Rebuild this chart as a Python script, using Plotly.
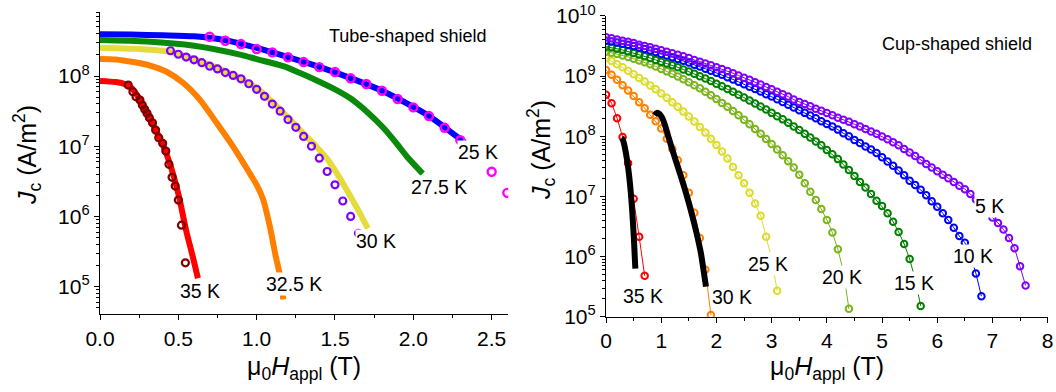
import plotly.graph_objects as go

FONT = "Arial, 'Liberation Sans', Helvetica, sans-serif"

# ---------------- Tube-shaped shield ----------------
# 25 K: field sweep (line) and discrete measurements (open circles)
tube_25K_line_H = [0.0, 0.2, 0.4, 0.6, 0.8, 1.0, 1.2, 1.4, 1.6, 1.8, 2.0, 2.1, 2.2, 2.3, 2.33]
tube_25K_line_Jc = [3.93e8, 3.89e8, 3.80e8, 3.67e8, 3.24e8, 2.51e8, 1.86e8, 1.35e8, 9.33e7,
                    6.17e7, 3.63e7, 2.69e7, 1.86e7, 1.26e7, 1.12e7]
tube_25K_pts_H = [0.7, 0.8, 0.9, 1.0, 1.1, 1.2, 1.3, 1.4, 1.5, 1.6, 1.7, 1.8, 1.9, 2.0,
                  2.1, 2.2, 2.3, 2.4, 2.5, 2.6]
tube_25K_pts_Jc = [3.62e8, 3.18e8, 2.85e8, 2.42e8, 2.17e8, 1.85e8, 1.58e8, 1.34e8, 1.14e8,
                   9.27e7, 7.69e7, 6.17e7, 4.70e7, 3.58e7, 2.69e7, 1.83e7, 1.22e7, 7.59e6,
                   4.33e6, 2.17e6]

# 27.5 K sweep
tube_27K5_H = [0.0, 0.3, 0.6, 0.9, 1.0, 1.17, 1.27, 1.38, 1.5, 1.6, 1.7, 1.81, 1.9, 1.96, 2.06]
tube_27K5_Jc = [3.25e8, 3.09e8, 2.69e8, 2.00e8, 1.74e8, 1.38e8, 1.12e8, 8.71e7, 6.46e7,
                4.79e7, 3.16e7, 1.82e7, 1.05e7, 7.08e6, 4.07e6]

# 30 K sweep and discrete measurements
tube_30K_line_H = [0.0, 0.2, 0.425, 0.6, 0.8, 1.0, 1.1, 1.2, 1.3, 1.383, 1.45, 1.53, 1.6,
                   1.66, 1.71]
tube_30K_line_Jc = [2.53e8, 2.45e8, 2.24e8, 1.74e8, 1.17e8, 6.76e7, 4.27e7, 2.57e7, 1.51e7,
                    9.77e6, 6.61e6, 3.55e6, 1.91e6, 1.10e6, 6.76e5]
tube_30K_pts_H = [0.45, 0.50, 0.55, 0.60, 0.65, 0.70, 0.75, 0.80, 0.85, 0.90, 0.95, 1.00,
                  1.05, 1.10, 1.15, 1.20, 1.25, 1.30, 1.35, 1.40, 1.45, 1.50, 1.55, 1.60, 1.65]
tube_30K_pts_Jc = [2.29e8, 2.04e8, 1.86e8, 1.70e8, 1.55e8, 1.38e8, 1.26e8, 1.12e8, 1.02e8,
                   9.12e7, 7.76e7, 6.46e7, 5.13e7, 3.98e7, 3.16e7, 2.40e7, 1.86e7, 1.38e7,
                   1.00e7, 6.76e6, 4.37e6, 2.82e6, 1.66e6, 1.00e6, 5.75e5]

# 32.5 K sweep
tube_32K5_H = [0.0, 0.1, 0.213, 0.32, 0.425, 0.532, 0.638, 0.745, 0.851, 0.957, 1.0, 1.04,
               1.085, 1.12, 1.15, 1.17]
tube_32K5_Jc = [1.75e8, 1.72e8, 1.58e8, 1.41e8, 1.15e8, 7.94e7, 4.57e7, 2.14e7, 9.77e6,
                4.07e6, 2.82e6, 1.78e6, 7.08e5, 2.82e5, 1.41e5, 6.6e4]

# 35 K sweep and discrete measurements
tube_35K_line_H = [0.0, 0.1, 0.15, 0.2, 0.25, 0.3, 0.35, 0.4, 0.45, 0.5, 0.55, 0.59, 0.625]
tube_35K_line_Jc = [8.5e7, 8.2e7, 7.8e7, 6.8e7, 4.8e7, 3.0e7, 1.8e7, 1.07e7, 5.3e6, 2.1e6,
                    6.3e5, 2.8e5, 1.32e5]
tube_35K_pts_H = [0.18, 0.21, 0.23, 0.255, 0.27, 0.285, 0.30, 0.315, 0.335, 0.355, 0.375,
                  0.40, 0.42, 0.44, 0.46, 0.48, 0.50, 0.52, 0.545]
tube_35K_pts_Jc = [7.43e7, 5.97e7, 5.07e7, 4.54e7, 3.86e7, 3.35e7, 2.94e7, 2.55e7, 2.16e7,
                   1.70e7, 1.32e7, 1.10e7, 8.53e6, 5.52e6, 3.61e6, 2.71e6, 1.71e6, 7.53e5,
                   2.19e5]

# ---------------- Cup-shaped shield ----------------
cup_field = [0.0, 0.1, 0.2, 0.3, 0.4, 0.5, 0.6, 0.7, 0.8, 0.9,
             1.0, 1.1, 1.2, 1.3, 1.4, 1.5, 1.6, 1.7, 1.8, 1.9,
             2.0, 2.1, 2.2, 2.3, 2.4, 2.5, 2.6, 2.7, 2.8, 2.9,
             3.0, 3.1, 3.2, 3.3, 3.4, 3.5, 3.6, 3.7, 3.8, 3.9,
             4.0, 4.1, 4.2, 4.3, 4.4, 4.5, 4.6, 4.7, 4.8, 4.9,
             5.0, 5.1, 5.2, 5.3, 5.4, 5.5, 5.6, 5.7, 5.8, 5.9,
             6.0, 6.1, 6.2, 6.3, 6.4, 6.5, 6.6, 6.7, 6.8, 6.9,
             7.0, 7.1, 7.2, 7.3, 7.4, 7.5, 7.6]

cup_5K = [4.43e9, 4.27e9, 4.07e9, 3.89e9, 3.72e9, 3.55e9, 3.31e9, 3.16e9, 3.02e9, 2.85e9,
          2.69e9, 2.54e9, 2.40e9, 2.26e9, 2.14e9, 2.00e9, 1.86e9, 1.74e9, 1.62e9, 1.51e9,
          1.41e9, 1.32e9, 1.22e9, 1.12e9, 1.02e9, 9.44e8, 8.71e8, 7.94e8, 7.24e8, 6.61e8,
          6.03e8, 5.50e8, 5.01e8, 4.57e8, 4.07e8, 3.72e8, 3.43e8, 3.16e8, 2.88e8, 2.66e8,
          2.43e8, 2.24e8, 2.04e8, 1.88e8, 1.74e8, 1.58e8, 1.45e8, 1.32e8, 1.20e8, 1.10e8,
          9.89e7, 8.91e7, 7.94e7, 7.08e7, 6.17e7, 5.37e7, 4.68e7, 3.98e7, 3.47e7, 3.02e7,
          2.63e7, 2.29e7, 2.00e7, 1.74e7, 1.51e7, 1.32e7, 1.10e7, 8.91e6, 7.24e6, 5.75e6,
          4.47e6, 3.63e6, 2.82e6, 2.04e6, 1.38e6, 6.92e5, 3.31e5]
cup_10K = [3.89e9, 3.76e9, 3.63e9, 3.47e9, 3.31e9, 3.16e9, 2.99e9, 2.82e9, 2.66e9, 2.51e9,
           2.34e9, 2.21e9, 2.07e9, 1.93e9, 1.80e9, 1.68e9, 1.55e9, 1.45e9, 1.33e9, 1.23e9,
           1.14e9, 1.05e9, 9.55e8, 8.81e8, 8.04e8, 7.33e8, 6.68e8, 6.10e8, 5.56e8, 5.01e8,
           4.57e8, 4.12e8, 3.72e8, 3.35e8, 3.02e8, 2.72e8, 2.45e8, 2.21e8, 2.00e8, 1.78e8,
           1.60e8, 1.45e8, 1.29e8, 1.12e8, 1.00e8, 8.71e7, 7.76e7, 6.76e7, 6.03e7, 5.25e7,
           4.47e7, 3.80e7, 3.24e7, 2.69e7, 2.24e7, 1.82e7, 1.55e7, 1.29e7, 1.05e7, 8.32e6,
           6.76e6, 5.25e6, 4.07e6, 3.02e6, 2.19e6, 1.70e6, 1.05e6, 5.25e5, 2.19e5]
cup_15K = [3.09e9, 2.99e9, 2.85e9, 2.72e9, 2.57e9, 2.43e9, 2.29e9, 2.14e9, 2.00e9, 1.86e9,
           1.74e9, 1.62e9, 1.51e9, 1.40e9, 1.29e9, 1.19e9, 1.10e9, 1.00e9, 9.12e8, 8.32e8,
           7.50e8, 6.76e8, 6.10e8, 5.50e8, 4.90e8, 4.42e8, 3.94e8, 3.51e8, 3.13e8, 2.79e8,
           2.45e8, 2.16e8, 1.91e8, 1.68e8, 1.46e8, 1.27e8, 1.10e8, 9.55e7, 8.22e7, 7.08e7,
           5.89e7, 5.01e7, 4.17e7, 3.39e7, 2.75e7, 2.19e7, 1.74e7, 1.41e7, 1.10e7, 8.51e6,
           6.92e6, 5.25e6, 3.80e6, 2.57e6, 1.62e6, 9.12e5, 4.17e5, 1.51e5]
cup_20K = [2.57e9, 2.45e9, 2.34e9, 2.21e9, 2.09e9, 1.95e9, 1.82e9, 1.70e9, 1.57e9, 1.45e9,
           1.32e9, 1.20e9, 1.10e9, 9.89e8, 8.91e8, 7.94e8, 7.08e8, 6.31e8, 5.50e8, 4.79e8,
           4.17e8, 3.59e8, 3.09e8, 2.63e8, 2.24e8, 1.88e8, 1.58e8, 1.32e8, 1.10e8, 9.02e7,
           7.41e7, 6.03e7, 4.84e7, 3.85e7, 3.02e7, 2.29e7, 1.66e7, 1.20e7, 8.71e6, 6.17e6,
           4.07e6, 2.51e6, 1.32e6, 5.62e5, 1.35e5]
cup_25K = [2.00e9, 1.78e9, 1.58e9, 1.40e9, 1.23e9, 1.07e9, 9.33e8, 8.13e8, 7.00e8, 6.03e8,
           5.13e8, 4.37e8, 3.67e8, 3.09e8, 2.57e8, 2.14e8, 1.76e8, 1.43e8, 1.15e8, 9.12e7,
           7.16e7, 5.56e7, 4.27e7, 3.09e7, 2.24e7, 1.66e7, 1.15e7, 7.59e6, 4.79e6, 2.14e6,
           8.91e5, 2.69e5]
cup_30K = [1.26e9, 1.05e9, 8.71e8, 7.08e8, 5.75e8, 4.68e8, 3.67e8, 2.92e8, 2.29e8, 1.78e8,
           1.35e8, 9.12e7, 6.17e7, 3.98e7, 2.24e7, 1.15e7, 5.37e6, 2.04e6, 6.03e5, 1.07e5]
cup_35K = [4.90e8, 3.55e8, 2.00e8, 9.77e7, 3.55e7, 9.12e6, 2.14e6, 4.79e5]

# continuous sweeps at 35 K and 30 K
cup_35K_sweep_H = [0.28, 0.30, 0.33, 0.36, 0.39, 0.42, 0.45, 0.475, 0.495, 0.51, 0.52, 0.531]
cup_35K_sweep_Jc = [9.33e7, 8.91e7, 7.24e7, 5.25e7, 3.55e7, 2.14e7, 1.12e7, 5.50e6, 2.82e6,
                    1.58e6, 1.00e6, 6.31e5]
cup_30K_sweep_H = [0.88, 0.92, 0.97, 1.02, 1.08, 1.13, 1.22, 1.34, 1.45, 1.55, 1.64, 1.72,
                   1.775, 1.81]
cup_30K_sweep_Jc = [2.24e8, 2.45e8, 2.34e8, 2.00e8, 1.41e8, 9.77e7, 5.25e7, 2.40e7, 1.12e7,
                    5.25e6, 2.45e6, 1.12e6, 5.25e5, 3.16e5]

fig = go.Figure()


def line(x, y, color, width, xa, ya):
    fig.add_trace(go.Scatter(x=x, y=y, mode="lines", xaxis=xa, yaxis=ya,
                             line=dict(color=color, width=width, shape="spline",
                                       smoothing=0.7),
                             showlegend=False, hoverinfo="skip"))


def circles(x, y, color, size, lw, xa, ya, link=False):
    fig.add_trace(go.Scatter(x=x, y=y, mode="lines+markers" if link else "markers",
                             xaxis=xa, yaxis=ya,
                             line=dict(color=color, width=1),
                             marker=dict(symbol="circle-open", size=size, color=color,
                                         line=dict(color=color, width=lw)),
                             showlegend=False, hoverinfo="skip"))


# tube panel
line(tube_25K_line_H, tube_25K_line_Jc, "#0000ff", 6, "x", "y")
line(tube_27K5_H, tube_27K5_Jc, "#0a8a0a", 6, "x", "y")
line(tube_30K_line_H, tube_30K_line_Jc, "#e3dc3c", 6, "x", "y")
line(tube_32K5_H, tube_32K5_Jc, "#ff8000", 6, "x", "y")
line(tube_35K_line_H, tube_35K_line_Jc, "#ff0000", 6, "x", "y")
circles(tube_25K_pts_H, tube_25K_pts_Jc, "#ff00ff", 8, 2.4, "x", "y")
circles(tube_30K_pts_H, tube_30K_pts_Jc, "#8000ff", 7, 2.2, "x", "y")
circles(tube_35K_pts_H, tube_35K_pts_Jc, "#800000", 7, 2.2, "x", "y")

# cup panel
cup_series = [
    (cup_35K, "#ff0000"),
    (cup_30K, "#ff8000"),
    (cup_25K, "#dcdc2e"),
    (cup_20K, "#7cb41c"),
    (cup_15K, "#008000"),
    (cup_10K, "#0000ff"),
    (cup_5K, "#8000ff"),
]
for jc, col in cup_series:
    circles(cup_field[:len(jc)], jc, col, 6.5, 2, "x2", "y2", link=True)
line(cup_35K_sweep_H, cup_35K_sweep_Jc, "#000000", 6, "x2", "y2")
line(cup_30K_sweep_H, cup_30K_sweep_Jc, "#000000", 6, "x2", "y2")

# ---------------- axes ----------------
tick_font = dict(family=FONT, size=21, color="black")
AX = dict(showline=True, linecolor="black", linewidth=1.3, showgrid=False, zeroline=False,
          tickcolor="black", tickwidth=1.3, tickfont=tick_font, automargin=False)


def log_minor(lo, hi):
    return [m * 10 ** e for e in range(lo, hi) for m in range(2, 10)]


left_x_major = [0.0, 0.5, 1.0, 1.5, 2.0, 2.5]
left_x_text = ["0.0", "0.5", "1.0", "1.5", "2.0", "2.5"]
left_x_minor = [0.25, 0.75, 1.25, 1.75, 2.25]
left_y_major = [1e5, 1e6, 1e7, 1e8]
left_y_text = ["10<sup>5</sup>", "10<sup>6</sup>", "10<sup>7</sup>", "10<sup>8</sup>"]
right_x_major = [0, 1, 2, 3, 4, 5, 6, 7, 8]
right_x_minor = [0.5, 1.5, 2.5, 3.5, 4.5, 5.5, 6.5, 7.5]
right_y_major = [1e5, 1e6, 1e7, 1e8, 1e9, 1e10]
right_y_text = ["10<sup>5</sup>", "10<sup>6</sup>", "10<sup>7</sup>", "10<sup>8</sup>",
                "10<sup>9</sup>", "10<sup>10</sup>"]

LX = [0.0, 2.606]
LY = [4.607, 8.907]
RX = [0.0, 8.0]
RY = [5.0, 10.0]


def minor(vals, side):
    return dict(tickmode="array", tickvals=vals, ticks=side, ticklen=3,
                tickcolor="black", tickwidth=1.3)


fig.update_layout(
    xaxis=dict(AX, domain=[0.0947, 0.4813], range=LX, anchor="y", ticks="outside", ticklen=5,
               tickmode="array", tickvals=left_x_major, ticktext=left_x_text,
               minor=minor(left_x_minor, "outside")),
    yaxis=dict(AX, domain=[0.1982, 0.9686], range=LY, type="log", anchor="x",
               ticks="outside", ticklen=5, tickmode="array", tickvals=left_y_major,
               ticktext=left_y_text, minor=minor(log_minor(4, 9), "outside")),
    xaxis3=dict(AX, overlaying="x", side="top", anchor="y", range=LX, ticks="inside",
                ticklen=5, tickmode="array", tickvals=left_x_major, showticklabels=False,
                minor=minor(left_x_minor, "inside")),
    yaxis3=dict(AX, overlaying="y", side="right", anchor="x", range=LY, type="log",
                ticks="inside", ticklen=5, tickmode="array", tickvals=left_y_major,
                showticklabels=False, minor=minor(log_minor(4, 9), "inside")),
    xaxis2=dict(AX, domain=[0.5739, 0.9921], range=RX, anchor="y2", ticks="outside",
                ticklen=5, tickmode="array", tickvals=right_x_major,
                minor=minor(right_x_minor, "outside")),
    yaxis2=dict(AX, domain=[0.1921, 0.9592], range=RY, type="log", anchor="x2",
                ticks="outside", ticklen=5, tickmode="array", tickvals=right_y_major,
                ticktext=right_y_text, minor=minor(log_minor(5, 10), "outside")),
    xaxis4=dict(AX, overlaying="x2", side="top", anchor="y2", range=RX, ticks="inside",
                ticklen=5, tickmode="array", tickvals=right_x_major, showticklabels=False,
                minor=minor(right_x_minor, "inside")),
    yaxis4=dict(AX, overlaying="y2", side="right", anchor="x2", range=RY, type="log",
                ticks="inside", ticklen=5, tickmode="array", tickvals=right_y_major,
                showticklabels=False, minor=minor(log_minor(5, 10), "inside")),
)

# ---------------- text ----------------
label_font = dict(family=FONT, size=19.5, color="black")
annotations = []


def temp_label(text, x, logy, xref, yref):
    annotations.append(dict(text=text, x=x, y=logy, xref=xref, yref=yref, showarrow=False,
                            font=label_font, bgcolor="white", borderpad=0,
                            xanchor="center", yanchor="middle"))


temp_label("25 K", 2.41, 6.92, "x", "y")
temp_label("27.5 K", 2.163, 6.42, "x", "y")
temp_label("30 K", 1.761, 5.65, "x", "y")
temp_label("32.5 K", 1.238, 5.04, "x", "y")
temp_label("35 K", 0.638, 4.94, "x", "y")

temp_label("35 K", 0.67, 5.344, "x2", "y2")
temp_label("30 K", 2.283, 5.328, "x2", "y2")
temp_label("25 K", 2.935, 5.876, "x2", "y2")
temp_label("20 K", 4.275, 5.66, "x2", "y2")
temp_label("15 K", 5.58, 5.56, "x2", "y2")
temp_label("10 K", 6.65, 6.009, "x2", "y2")
temp_label("5 K", 6.94, 6.84, "x2", "y2")

panel_font = dict(family=FONT, size=18, color="black")
annotations.append(dict(text="Tube-shaped shield", x=407 / 1056, y=1 - 36 / 392,
                        xref="paper", yref="paper", showarrow=False, font=panel_font,
                        xanchor="center", yanchor="middle"))
annotations.append(dict(text="Cup-shaped shield", x=957 / 1056, y=1 - 44 / 392,
                        xref="paper", yref="paper", showarrow=False, font=panel_font,
                        xanchor="center", yanchor="middle"))

title_font = dict(family=FONT, size=25, color="black")
x_title = "\u03bc<sub>0</sub><i>H</i><sub>appl</sub> (T)"
y_title = "<i>J</i><sub>c</sub> (A/m<sup>2</sup>)"
annotations.append(dict(text=x_title, x=304 / 1056, y=1 - 368 / 392, xref="paper",
                        yref="paper", showarrow=False, font=title_font,
                        xanchor="center", yanchor="middle"))
annotations.append(dict(text=x_title, x=827 / 1056, y=1 - 368 / 392, xref="paper",
                        yref="paper", showarrow=False, font=title_font,
                        xanchor="center", yanchor="middle"))
annotations.append(dict(text=y_title, x=27 / 1056, y=1 - 155 / 392, xref="paper",
                        yref="paper", showarrow=False, font=title_font, textangle=-90,
                        xanchor="center", yanchor="middle"))
annotations.append(dict(text=y_title, x=541 / 1056, y=1 - 150 / 392, xref="paper",
                        yref="paper", showarrow=False, font=title_font, textangle=-90,
                        xanchor="center", yanchor="middle"))

fig.update_layout(
    width=1056, height=392,
    margin=dict(l=0, r=0, t=0, b=0),
    paper_bgcolor="white", plot_bgcolor="white",
    showlegend=False,
    annotations=annotations,
    font=dict(family=FONT, color="black"),
)

fig.write_html("out.html", config={"displayModeBar": False})
